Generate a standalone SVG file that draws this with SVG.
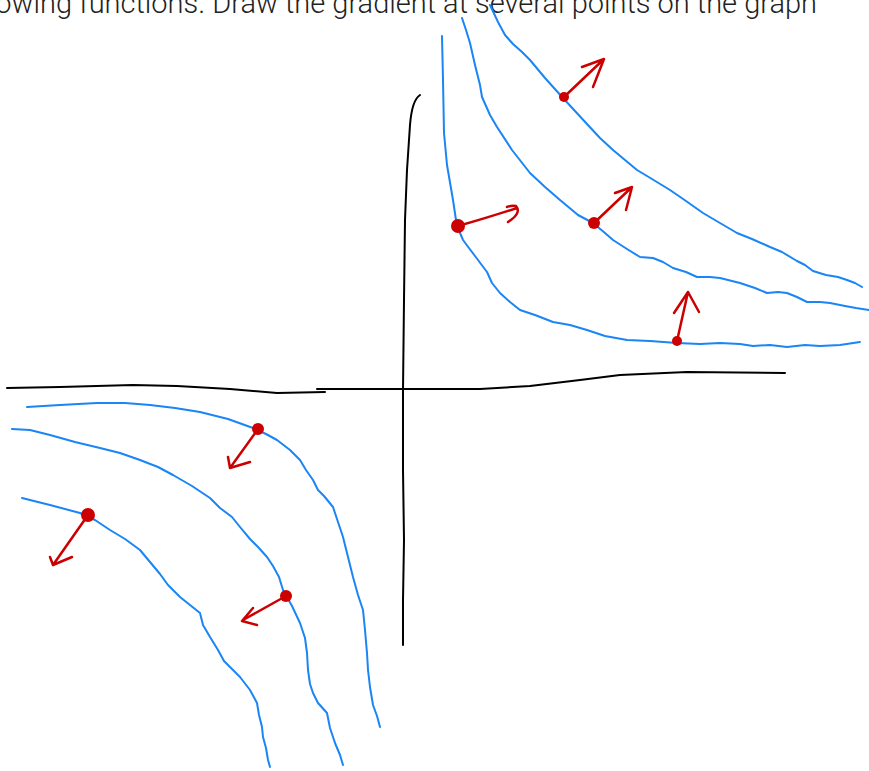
<svg xmlns="http://www.w3.org/2000/svg" width="869" height="771" viewBox="0 0 869 771">
<style>
.t{font-family:Roboto,"Liberation Sans",sans-serif;font-weight:300;font-size:29px;fill:#222}
.ax{fill:none;stroke:#000;stroke-width:2;stroke-linecap:round;stroke-linejoin:round}
.lv{fill:none;stroke:#1a85f5;stroke-width:2;stroke-linecap:round;stroke-linejoin:round}
.gr{fill:none;stroke:#cc0000;stroke-width:2.5;stroke-linecap:round;stroke-linejoin:round}
.dot{fill:#cc0000}
</style>
<rect width="869" height="771" fill="#fff"/>
<text class="t" x="817" y="13" text-anchor="end">owing functions. Draw the gradient at several points on the graph</text>
<g id="axes">
<path class="ax" d="M420,95 Q412,100 410,125 L407,170 L405,220 L404,300 L403,390 L403,470 L404,540 L403,600 L403,645"/>
<path class="ax" d="M7,388 L60,387 L133,385 L177,386 L230,389 L277,393 L325,392"/>
<path class="ax" d="M317,389 L360,389 L420,389 L480,389 L530,386 L580,380 L620,375 L687,372 L785,373"/>
</g>
<g id="level-curves">
<path class="lv" d="M442,36 L443,80 L444,133 L447,165 L453,200 L456,220 L458,228 L463,240 L475,256 L487,272 L492,283 L500,293 L510,302 L520,310 L535,315 L553,322 L570,325 L587,330 L605,336 L627,340 L650,341 L677,343 L700,344 L720,343 L740,344 L753,346 L770,345 L787,347 L805,345 L820,346 L840,345 L860,342"/>
<path class="lv" d="M462,18 L466,30 L470,43 L475,65 L480,85 L482,97 L490,115 L497,127 L512,150 L530,173 L545,187 L560,200 L578,215 L593,223 L605,233 L613,240 L627,249 L640,257 L653,258 L663,262 L673,268 L686,272 L697,277 L710,277 L720,278 L732,281 L740,283 L755,288 L767,293 L778,292 L787,293 L797,297 L807,302 L820,302 L830,303 L845,306 L856,308 L869,310"/>
<path class="lv" d="M490,5 L498,22 L505,35 L513,44 L522,52 L530,60 L545,78 L563,98 L575,111 L587,124 L600,138 L613,150 L625,160 L637,170 L652,179 L670,190 L686,201 L703,213 L720,223 L737,233 L752,239 L770,247 L782,252 L797,261 L805,265 L813,271 L826,275 L838,277 L847,280 L855,283 L862,287"/>
<path class="lv" d="M27,407 L60,405 L97,403 L125,403 L150,405 L175,408 L200,412 L228,419 L253,428 L266,434 L277,440 L290,450 L300,460 L306,470 L313,480 L318,490 L324,496 L333,507 L338,522 L343,537 L348,557 L353,577 L358,595 L363,610 L365,630 L367,653 L368,670 L370,687 L373,705 L377,716 L380,727"/>
<path class="lv" d="M12,429 L30,430 L50,435 L75,442 L100,448 L120,453 L140,460 L158,467 L173,475 L192,486 L210,498 L220,508 L232,517 L240,527 L250,539 L258,547 L267,557 L273,566 L279,577 L283,590 L292,606 L300,623 L305,638 L307,653 L308,670 L310,684 L313,693 L318,703 L327,713 L330,728 L335,743 L340,755 L343,765"/>
<path class="lv" d="M22,498 L50,505 L80,513 L95,520 L110,530 L125,539 L140,550 L150,562 L160,574 L168,585 L180,597 L190,605 L200,613 L203,625 L210,637 L218,650 L224,661 L232,669 L240,677 L250,690 L257,703 L259,715 L262,727 L263,737 L266,748 L268,760 L270,767"/>
</g>
<g id="gradients">
<g id="g1"><circle class="dot" cx="564" cy="97" r="5"/><path class="gr" d="M564,97 L604,59 M582,67 L604,59 L593,87"/></g>
<g id="g2"><circle class="dot" cx="458" cy="226" r="7"/><path class="gr" d="M458,226 Q490,217 517,208 M508,222 Q522,213 516,206 Q512,205 507,207"/></g>
<g id="g3"><circle class="dot" cx="594" cy="223" r="6"/><path class="gr" d="M594,223 L632,187 M615,193 L632,187 L626,210"/></g>
<g id="g4"><circle class="dot" cx="677" cy="341" r="5"/><path class="gr" d="M677,341 L688,292 M674,313 L688,292 L699,312"/></g>
<g id="g5"><circle class="dot" cx="258" cy="429" r="6"/><path class="gr" d="M258,429 L230,468 M228,457 L230,468 L250,462"/></g>
<g id="g6"><circle class="dot" cx="88" cy="515" r="7"/><path class="gr" d="M88,515 L53,565 M50,557 L53,565 L72,557"/></g>
<g id="g7"><circle class="dot" cx="286" cy="596" r="6"/><path class="gr" d="M286,596 L243,620 M253,608 L242,621 L257,625"/></g>
</g>
</svg>
